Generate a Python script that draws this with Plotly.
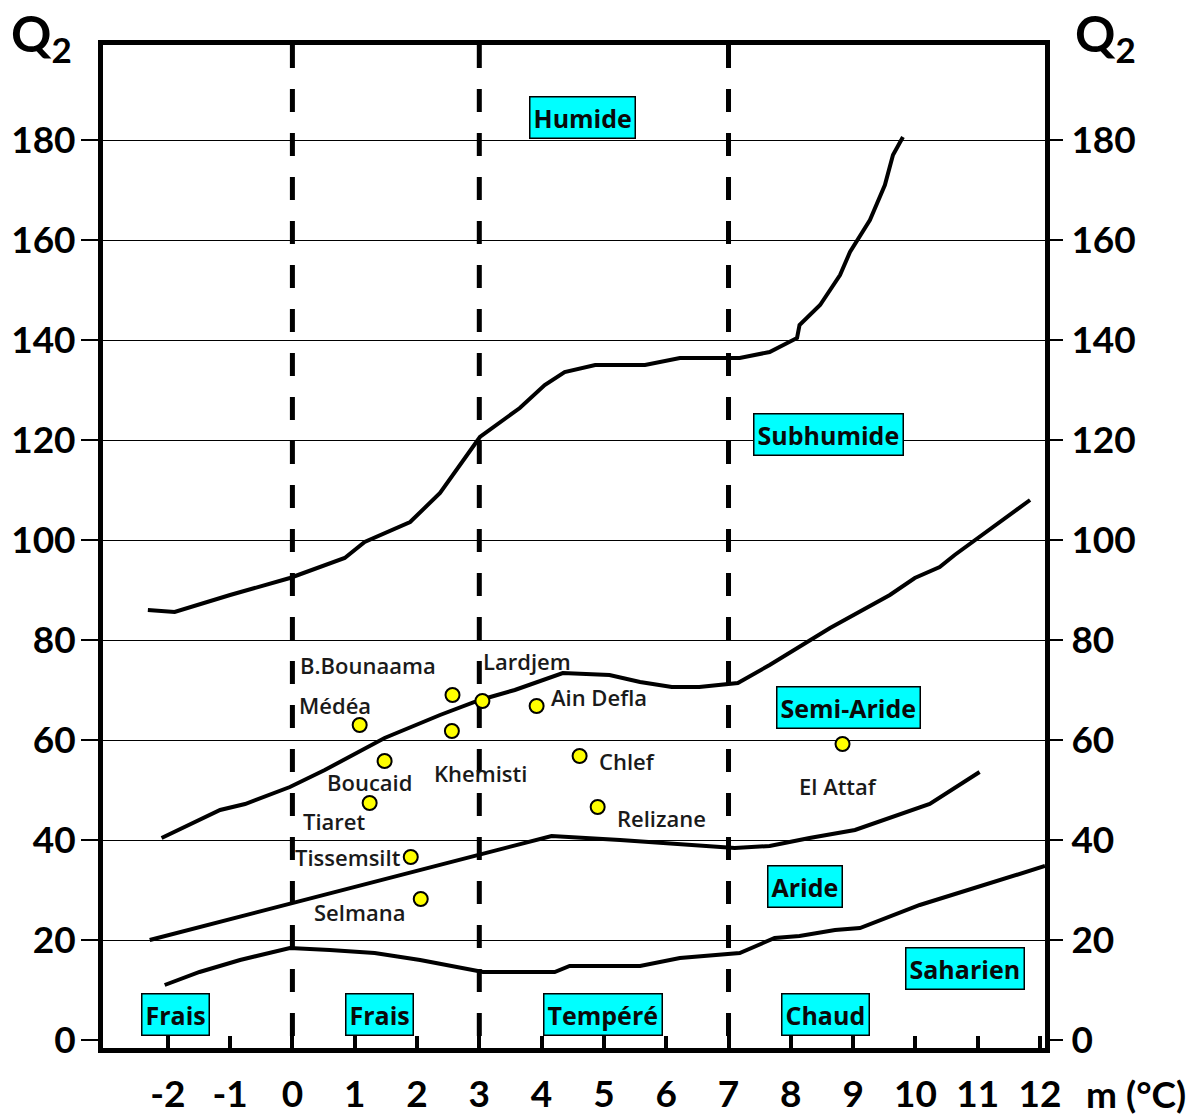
import plotly.graph_objects as go

# ---------------- data ----------------
x_ticks = list(range(-2, 13))
q_ticks = list(range(0, 181, 20))
temp_dividers = [0, 3, 7]

# Humide / Subhumide boundary
c1_m = [-2.32, -1.89, -1.0, -0.04, 0.84, 1.16, 1.89, 2.37, 3.01, 3.65, 4.05, 4.37, 4.86, 5.66, 6.22, 7.18, 7.66, 8.10, 8.14, 8.47, 8.79, 8.95, 9.27, 9.51, 9.64, 9.80]
c1_q = [86.0, 85.6, 89.0, 92.4, 96.4, 99.6, 103.6, 109.4, 120.6, 126.4, 131.0, 133.6, 135.0, 135.0, 136.4, 136.4, 137.6, 140.4, 143.0, 147.0, 153.0, 157.6, 164.0, 171.0, 177.0, 180.6]
# Subhumide / Semi-Aride boundary
c2_m = [-2.10, -1.16, -0.76, -0.04, 0.52, 1.48, 2.37, 3.01, 3.57, 4.34, 5.09, 5.58, 6.09, 6.53, 7.15, 7.66, 8.63, 9.59, 9.99, 10.39, 10.63, 11.84]
c2_q = [40.4, 46.0, 47.2, 50.6, 54.0, 60.4, 65.0, 68.0, 70.0, 73.4, 73.0, 71.6, 70.6, 70.6, 71.4, 75.0, 82.4, 89.0, 92.4, 94.6, 97.0, 108.0]
# Semi-Aride / Aride boundary
c3_m = [-2.29, -0.04, 3.01, 3.97, 4.16, 5.26, 6.54, 7.10, 7.66, 8.30, 9.03, 9.75, 10.23, 11.03]
c3_q = [20.0, 27.2, 37.0, 40.0, 40.8, 40.0, 39.0, 38.4, 38.8, 40.4, 42.0, 45.2, 47.2, 53.6]
# Aride / Saharien boundary
c4_m = [-2.05, -1.49, -0.84, -0.04, 0.60, 1.32, 2.05, 3.06, 4.21, 4.45, 5.58, 6.22, 7.18, 7.74, 8.14, 8.71, 9.11, 10.07, 12.08]
c4_q = [11.0, 13.6, 16.0, 18.4, 18.0, 17.4, 16.0, 13.6, 13.6, 14.8, 14.8, 16.4, 17.4, 20.4, 20.8, 22.0, 22.4, 27.0, 34.8]

# stations (points)
st_m = [2.57, 3.05, 1.08, 2.56, 3.92, 1.48, 4.61, 1.24, 4.90, 1.90, 2.06, 8.83]
st_q = [69.0, 67.8, 63.0, 61.8, 66.8, 55.8, 56.8, 47.4, 46.6, 36.6, 28.2, 59.2]

# station names (label anchor positions)
name_txt = ["B.Bounaama", "Médéa", "Lardjem", "Ain Defla", "Boucaid", "Khemisti", "Chlef",
            "Tiaret", "Relizane", "Tissemsilt", "Selmana", "El Attaf"]
name_m = [1.21, 0.68, 3.76, 4.92, 1.24, 3.02, 5.37, 0.66, 5.93, 0.89, 1.08, 8.75]
name_q = [75.0, 67.0, 75.8, 68.6, 51.6, 53.4, 55.8, 43.8, 44.4, 36.6, 25.6, 50.8]

# bioclimatic zones and winter variants
zone_txt = ["Humide", "Subhumide", "Semi-Aride", "Aride", "Saharien", "Frais", "Frais", "Tempéré", "Chaud"]
zone_m = [4.65, 8.60, 8.92, 8.22, 10.79, -1.87, 1.39, 4.98, 8.55]
zone_q = [184.6, 121.2, 66.6, 30.8, 14.4, 5.2, 5.2, 5.2, 5.2]

X_RANGE = [-3.04, 12.08]
Y_RANGE = [-1.6, 199.0]

# ---------------- figure ----------------
fig = go.Figure()

for xv in temp_dividers:
    fig.add_trace(go.Scatter(x=[xv, xv], y=[Y_RANGE[1], Y_RANGE[0]], mode="lines",
                             line=dict(color="black", width=5, dash="23px,21px"),
                             hoverinfo="skip", showlegend=False))

for cm, cq in [(c1_m, c1_q), (c2_m, c2_q), (c3_m, c3_q), (c4_m, c4_q)]:
    fig.add_trace(go.Scatter(x=cm, y=cq, mode="lines",
                             line=dict(color="black", width=4),
                             showlegend=False))

fig.add_trace(go.Scatter(x=st_m, y=st_q, mode="markers",
                         marker=dict(symbol="circle", size=14, color="#FFFF00",
                                     line=dict(color="black", width=2)),
                         showlegend=False))

# invisible trace to activate right axis
fig.add_trace(go.Scatter(x=[X_RANGE[0]], y=[Y_RANGE[0]], yaxis="y2", mode="markers",
                         marker=dict(opacity=0), hoverinfo="skip", showlegend=False))

for t, xm, yq in zip(name_txt, name_m, name_q):
    fig.add_annotation(x=xm, y=yq, text=t, showarrow=False,
                       font=dict(family="Open Sans", size=22, color="#1a1a1a", weight=600))

for t, xm, yq in zip(zone_txt, zone_m, zone_q):
    fig.add_annotation(x=xm, y=yq, text="<b>" + t + "</b>", showarrow=False,
                       bgcolor="#00FFFF", bordercolor="black", borderwidth=1.5, borderpad=3,
                       font=dict(family="Open Sans", size=25, color="#0a0a0a"))

tickfont = dict(family="Lato", size=37, color="black", weight="bold")

fig.add_annotation(xref="paper", yref="paper", x=-0.0648, y=1.008, xanchor="center", yanchor="middle",
                   text="<b>Q<sub>2</sub></b>", showarrow=False,
                   font=dict(family="Lato", size=50, color="black"))
fig.add_annotation(xref="paper", yref="paper", x=1.0637, y=1.008, xanchor="center", yanchor="middle",
                   text="<b>Q<sub>2</sub></b>", showarrow=False,
                   font=dict(family="Lato", size=50, color="black"))
fig.add_annotation(xref="paper", yref="paper", x=1.0965, y=-0.0455, xanchor="center", yanchor="middle",
                   text="<b>m (°C)</b>", showarrow=False,
                   font=dict(family="Lato", size=37, color="black"))

fig.update_layout(
    width=1201, height=1117,
    margin=dict(l=103, r=156, t=45, b=69, autoexpand=False),
    paper_bgcolor="white", plot_bgcolor="white",
    showlegend=False,
    xaxis=dict(range=X_RANGE, tickvals=x_ticks, ticktext=[str(v) for v in x_ticks],
               ticks="inside", ticklen=12, tickwidth=4, tickcolor="black",
               showline=True, linewidth=5, linecolor="black", mirror=True, automargin=False,
               showgrid=False, zeroline=False, tickfont=tickfont, ticklabelstandoff=10),
    yaxis=dict(range=Y_RANGE, tickvals=q_ticks, ticktext=[str(v) for v in q_ticks],
               ticks="outside", ticklen=17, tickwidth=1.5, tickcolor="black",
               showline=True, linewidth=5, linecolor="black", mirror=True, automargin=False,
               showgrid=True, gridcolor="black", gridwidth=1.2,
               zeroline=True, zerolinecolor="rgba(0,0,0,0)", zerolinewidth=1,
               tickfont=tickfont, ticklabelstandoff=-2),
    yaxis2=dict(range=Y_RANGE, tickvals=q_ticks, ticktext=[str(v) for v in q_ticks],
                overlaying="y", side="right", anchor="x", automargin=False,
                ticks="outside", ticklen=17, tickwidth=1.5, tickcolor="black",
                showline=False, showgrid=False, zeroline=False,
                tickfont=tickfont, ticklabelstandoff=1),
)

fig.write_html("out.html", config={"displayModeBar": False},
               post_script="document.body.style.margin='0';document.body.style.overflow='hidden';")
